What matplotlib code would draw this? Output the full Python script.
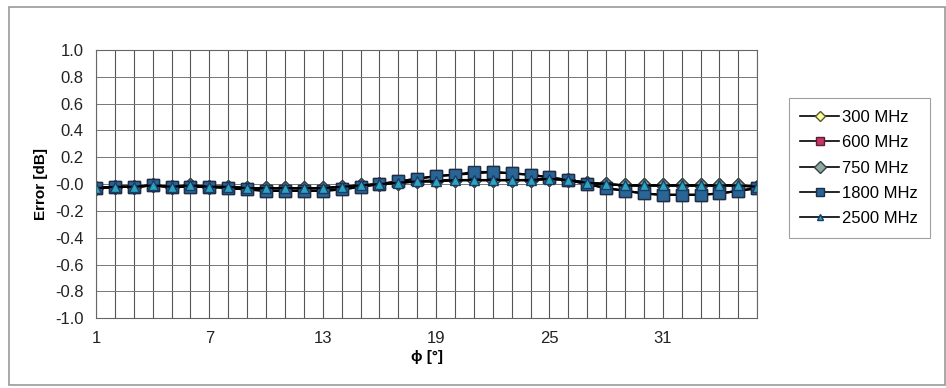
import numpy as np
import matplotlib.pyplot as plt
from matplotlib.patches import Rectangle

plt.rcParams['font.family'] = ['Liberation Sans', 'DejaVu Sans']
plt.rcParams['axes.unicode_minus'] = False

# angle index 1..36 (10 degree steps)
phi = np.arange(1, 37)

err_300 = [-0.03, -0.02, -0.02, -0.01, -0.02, -0.01, -0.02, -0.02, -0.03, -0.03, -0.03, -0.03,
           -0.03, -0.02, -0.01, 0.00, 0.01, 0.02, 0.02, 0.03, 0.03, 0.03, 0.03, 0.03,
           0.04, 0.03, 0.01, 0.00, -0.01, -0.01, -0.01, -0.01, -0.01, -0.01, -0.01, -0.02]
err_600 = [-0.03, -0.02, -0.02, -0.01, -0.02, -0.02, -0.02, -0.03, -0.04, -0.05, -0.05, -0.05,
           -0.05, -0.04, -0.02, 0.00, 0.02, 0.04, 0.06, 0.07, 0.08, 0.09, 0.08, 0.07,
           0.05, 0.03, 0.00, -0.03, -0.05, -0.07, -0.08, -0.08, -0.08, -0.07, -0.05, -0.03]
err_750 = [-0.03, -0.02, -0.02, -0.01, -0.02, -0.01, -0.02, -0.02, -0.03, -0.03, -0.03, -0.03,
           -0.03, -0.02, -0.01, 0.00, 0.01, 0.02, 0.03, 0.03, 0.03, 0.03, 0.03, 0.03,
           0.04, 0.03, 0.01, 0.00, -0.01, -0.01, -0.01, -0.01, -0.01, -0.01, -0.01, -0.02]
err_1800 = [-0.03, -0.02, -0.02, -0.01, -0.02, -0.02, -0.02, -0.03, -0.04, -0.05, -0.05, -0.05,
            -0.05, -0.04, -0.02, 0.00, 0.02, 0.04, 0.06, 0.07, 0.09, 0.09, 0.08, 0.07,
            0.05, 0.03, 0.00, -0.03, -0.05, -0.07, -0.08, -0.08, -0.08, -0.07, -0.05, -0.03]
err_2500 = [-0.03, -0.02, -0.02, -0.01, -0.02, -0.01, -0.02, -0.02, -0.03, -0.03, -0.03, -0.03,
            -0.03, -0.02, -0.01, 0.00, 0.01, 0.02, 0.02, 0.03, 0.03, 0.03, 0.03, 0.03,
            0.04, 0.03, 0.01, 0.00, -0.01, -0.01, -0.01, -0.01, -0.01, -0.01, -0.01, -0.02]

labels = ['300 MHz', '600 MHz', '750 MHz', '1800 MHz', '2500 MHz']
series = [err_300, err_600, err_750, err_1800, err_2500]
markers = ['D', 's', 'D', 's', '^']
sizes = [7, 8.5, 7.5, 8.5, 6.5]
faces = ['#ffff99', '#cc3366', '#8fa8a0', '#2a6596', '#2aa5bd']
edges = ['#555533', '#552233', '#2f4444', '#1b2f48', '#1c3a66']

fig = plt.figure(figsize=(9.46, 3.88), dpi=100)
fig.patches.append(Rectangle((0.009, 0.008), 0.99, 0.975, transform=fig.transFigure,
                             fill=False, edgecolor='#999999', lw=1.2))

ax = fig.add_axes([0.1015, 0.180, 0.699, 0.691])
for y, lab, m, ms, fc, ec in zip(series, labels, markers, sizes, faces, edges):
    ax.plot(phi, y, color='black', lw=1.6, marker=m, markersize=ms,
            markerfacecolor=fc, markeredgecolor=ec, markeredgewidth=1.0, label=lab)

ax.set_xlim(1, 36)
ax.set_ylim(-1.0, 1.0)
ax.set_xticks(phi, minor=True)
ax.set_xticks(np.arange(1, 37, 6))
ax.set_yticks(np.arange(-1.0, 1.01, 0.2))
ax.set_yticklabels([f'{v:.1f}' for v in np.arange(-1.0, 1.01, 0.2)])
ax.grid(True, which='both', axis='x', color='#555555', lw=0.8)
ax.grid(True, which='major', axis='y', color='#777777', lw=0.7)
ax.set_axisbelow(True)
ax.tick_params(which='both', length=0, labelsize=12, colors='#222222', pad=9)
for s in ax.spines.values():
    s.set_color('#666666')
    s.set_linewidth(0.8)

ax.set_ylabel('Error [dB]', fontsize=11, fontweight='bold', labelpad=5)
ax.set_xlabel('\u03d5 [°]', fontsize=11, fontweight='bold', labelpad=3)

# legend: smaller markers than the plot
leg = ax.legend(loc='center left', bbox_to_anchor=(0.825, 0.567), bbox_transform=fig.transFigure,
                fontsize=12, frameon=True, fancybox=False, edgecolor='#888888',
                handlelength=2.3, labelspacing=0.62, borderpad=0.7, handletextpad=0.2,
                markerscale=0.75)
leg.get_frame().set_linewidth(0.8)
for line in leg.get_lines():
    line.set_linewidth(1.2)

fig.savefig('out.png', dpi=100)
